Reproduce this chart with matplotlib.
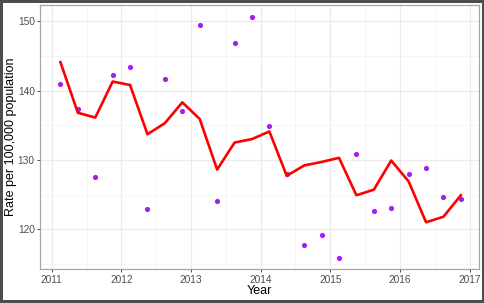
import matplotlib
matplotlib.use("Agg")
import matplotlib.pyplot as plt
import numpy as np
from matplotlib.ticker import MultipleLocator

plt.rcParams['font.family'] = ['Liberation Sans', 'DejaVu Sans']

# quarterly observations, plotted at mid-quarter
years = [2011, 2012, 2013, 2014, 2015, 2016]
quarter_offsets = [0.125, 0.375, 0.625, 0.875]
observed = [140.9, 137.3, 127.5, 142.3,
            143.4, 122.9, 141.7, 137.0,
            149.4, 124.1, 146.8, 150.6,
            134.9, 127.9, 117.7, 119.2,
            115.9, 130.8, 122.6, 123.1,
            128.0, 128.9, 124.7, 124.3]
fitted = [144.1, 136.8, 136.1, 141.3,
          140.8, 133.7, 135.3, 138.3,
          135.9, 128.6, 132.5, 133.0,
          134.1, 127.7, 129.2, 129.7,
          130.3, 124.9, 125.7, 129.9,
          126.9, 121.0, 121.8, 124.9]
x_ticks = [2011, 2012, 2013, 2014, 2015, 2016, 2017]
y_ticks = [120, 130, 140, 150]

time = [y + q for y in years for q in quarter_offsets]

fig = plt.figure(figsize=(4.85, 3.03), dpi=100)
fig.patch.set_facecolor('white')
fig.patch.set_edgecolor('#4d4d4d')
fig.patch.set_linewidth(3)
ax = fig.add_axes([0.0831, 0.1122, 0.9052, 0.8703])

ax.set_axisbelow(True)
ax.scatter(time, observed, s=14, color='#A020F0', zorder=2, linewidths=0)
ax.plot(time, fitted, color='#FF0000', linewidth=1.9, zorder=3)

ax.set_xlim(2010.836, 2017.14)
ax.set_ylim(114.26, 152.3)
ax.set_xticks(x_ticks)
ax.set_yticks(y_ticks)
ax.xaxis.set_minor_locator(MultipleLocator(0.5))
ax.yaxis.set_minor_locator(MultipleLocator(5))

ax.grid(which='major', color='#EBEBEB', linewidth=0.9)
ax.grid(which='minor', color='#F2F2F2', linewidth=0.5)
for s in ax.spines.values():
    s.set_color('#A6A6A6')
    s.set_linewidth(0.9)
ax.tick_params(which='major', length=2, width=0.7, color='#4d4d4d',
               labelsize=7.3, labelcolor='#4D4D4D', pad=2)
ax.tick_params(which='minor', length=0)

ax.set_xlabel('Year', fontsize=9, color='black')
ax.set_ylabel('Rate per 100,000 population', fontsize=9, color='black')
ax.xaxis.set_label_coords(0.5, -0.06)
ax.yaxis.set_label_coords(-0.053, 0.5)

fig.savefig('out.png', dpi=100)
